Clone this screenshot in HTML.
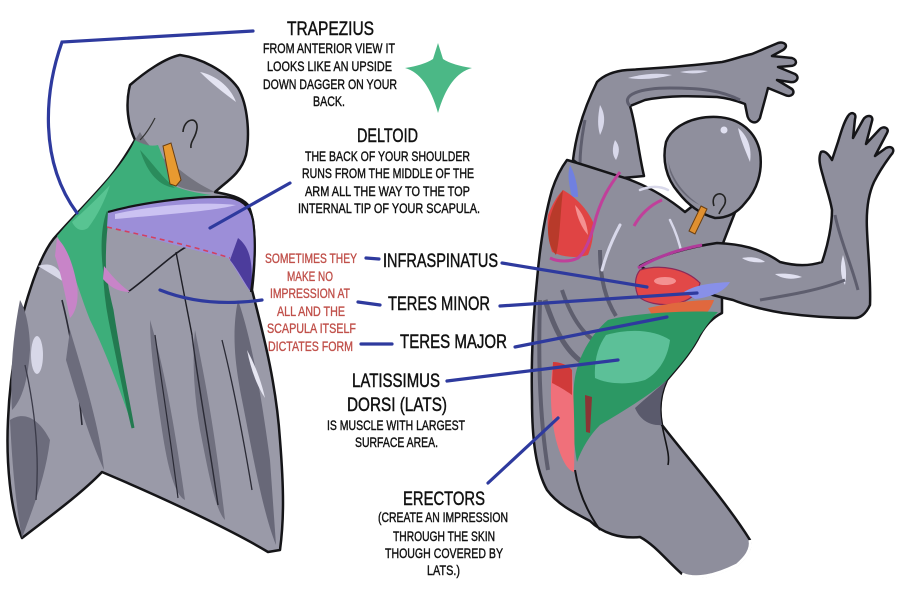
<!DOCTYPE html>
<html><head><meta charset="utf-8"><style>
html,body{margin:0;padding:0;background:#fff;}
svg{display:block;}
text{font-family:"Liberation Sans",sans-serif;}
</style></head><body>
<svg width="897" height="596" viewBox="0 0 897 596" xmlns="http://www.w3.org/2000/svg">
<rect width="897" height="596" fill="#fff"/>

<!-- ============ LEFT FIGURE ============ -->
<path d="M180,55 C200,58 225,70 238,88 C248,105 250,135 246,155 C242,170 232,178 222,186 L215,192 C225,194 240,196 248,205 C256,220 256,255 252,290 C262,330 276,380 280,440 C284,490 284,520 280,550 L268,552 C240,535 180,505 102,472 C80,495 45,520 22,538 C10,510 6,460 8,420 C10,370 20,320 30,290 C38,265 47,245 57,235 C75,215 95,195 110,177 C120,165 128,152 135,140 C128,125 125,105 130,85 C145,72 165,58 180,55 Z" fill="#9a9aa8" stroke="#151518" stroke-width="2.5" stroke-linejoin="round"/>
<!-- head shading -->
<path d="M135,140 C150,150 160,160 168,180 C180,190 200,193 215,192 C200,185 190,178 180,170 C165,160 150,150 140,132 Z" fill="#74747f"/>
<path d="M200,72 C215,75 230,86 236,102 C224,93 212,84 200,72 Z" fill="#e4e4f2"/>
<path d="M183,132 C184,118 198,116 197,128 C196,138 190,141 191,148" fill="none" stroke="#222" stroke-width="1.6"/>
<path d="M155,118 C150,128 145,135 140,140" fill="none" stroke="#333" stroke-width="1.2"/>
<!-- left arm shading -->
<path d="M10,420 C12,460 15,500 22,538 C32,510 45,480 50,440 C40,420 25,410 10,420 Z" fill="#6c6c7c"/>
<path d="M20,300 C12,340 10,380 12,410 C22,400 28,380 30,350 C30,330 26,310 20,300 Z" fill="#6c6c7c"/>
<ellipse cx="37" cy="355" rx="6" ry="19" fill="#d8d8e8"/>
<path d="M38,266 C50,262 60,266 64,282 C55,276 46,271 38,266 Z" fill="#d8d8e8"/>
<path d="M62,300 C72,340 78,380 82,425" fill="none" stroke="#2a2a35" stroke-width="1.6"/>
<path d="M25,365 C34,405 40,450 36,500" fill="none" stroke="#3a3a48" stroke-width="1.3"/>
<path d="M70,330 C85,380 100,430 104,470 C90,440 78,400 66,360 Z" fill="#6c6c7c"/>
<!-- torso lower shading -->
<path d="M150,320 C165,370 175,430 185,500 C175,495 168,470 162,430 C156,390 150,350 150,320 Z" fill="#70707f"/>
<path d="M195,330 C205,380 215,430 225,520 C215,510 208,470 200,430 C194,395 192,360 195,330 Z" fill="#70707f"/>
<path d="M238,300 C252,340 262,400 270,460 L276,545 C262,510 252,450 242,400 C234,360 232,330 238,300 Z" fill="#686878"/>
<path d="M247,350 C255,365 261,380 265,398 C257,386 251,370 247,350 Z" fill="#e6e6f2"/>
<path d="M128,292 C150,276 170,256 186,247" fill="none" stroke="#1e1e26" stroke-width="1.6"/>
<path d="M176,252 C181,278 186,305 192,335" fill="none" stroke="#1e1e26" stroke-width="1.4"/>
<path d="M192,335 C198,385 208,435 218,505" fill="none" stroke="#2a2a35" stroke-width="1.4"/>
<path d="M155,335 C162,385 170,435 178,498" fill="none" stroke="#2a2a35" stroke-width="1.2"/>
<path d="M222,340 C232,380 242,430 252,490" fill="none" stroke="#2a2a35" stroke-width="1.3"/>
<!-- trapezius green -->
<path d="M135,140 C142,144 150,147 158,145 L164,160 L170,184 C182,190 196,193 212,195 C180,198 140,203 108,212 C100,235 102,270 112,310 C118,350 126,390 133,428 C122,395 105,350 90,320 C80,295 72,265 62,245 L57,236 C75,215 95,195 110,177 C120,165 130,152 135,140 Z" fill="#3dae7a"/>
<path d="M72,222 C85,210 98,198 110,185 C105,200 98,215 88,228 C82,232 76,230 72,222 Z" fill="#58c492"/>
<path d="M108,212 C100,235 102,270 112,310 C118,350 126,390 133,428 C126,400 118,360 110,320 C104,290 102,250 108,212 Z" fill="#237a50" stroke="#237a50" stroke-width="3"/>
<path d="M140,150 C150,160 160,175 175,188 C160,186 148,175 140,150 Z" fill="#2a8c5c"/>
<!-- pink -->
<path d="M57,238 C66,246 73,263 77,285 C79,300 76,312 70,318 C66,300 62,276 55,256 Z" fill="#c884c8"/>
<path d="M104,266 C112,276 120,285 130,292 C118,292 110,287 103,279 Z" fill="#c884c8"/>
<!-- orange SCM -->
<path d="M163,146 L171,143 L181,180 L176,186 L170,184 Z" fill="#e89a30" stroke="#6a3e10" stroke-width="1"/>
<!-- deltoid purple -->
<path d="M108,212 C140,203 190,196 225,197 C240,198 250,205 253,220 C256,240 255,265 251,292 C244,285 238,272 228,258 C190,250 140,235 107,227 Z" fill="#9c8ed8"/>
<path d="M115,214 C150,206 200,201 236,205 C215,211 160,215 115,219 Z" fill="#cbc2f2"/>
<path d="M238,238 C248,246 254,258 251,292 C245,284 238,270 230,260 Z" fill="#4c3c9c"/>
<path d="M108,212 C140,203 190,196 225,197 C240,198 250,205 253,220 C256,240 255,265 251,292" fill="none" stroke="#151518" stroke-width="2.2"/>
<path d="M107,227 C150,237 190,245 230,258" fill="none" stroke="#d24060" stroke-width="1.6" stroke-dasharray="5,4"/>

<!-- ============ RIGHT FIGURE ============ -->
<!-- raised arm -->
<path d="M573,160 C576,135 584,108 597,82 C605,74 615,71 627,70 C660,68 690,66 722,62 C732,60 742,56 752,54 L778,43 C785,41 789,46 783,50 L772,56 L792,58 C798,60 797,66 790,66 L778,67 L795,74 C800,77 797,83 790,82 L777,80 L792,89 C796,93 791,98 785,95 L768,88 C765,100 762,110 760,118 C756,126 748,122 747,114 L745,104 C735,100 727,98 717,97 C695,96 670,95 645,100 L630,106 C636,125 638,150 644,176 L600,180 Z" fill="#8f8f9d" stroke="#151518" stroke-width="2.5" stroke-linejoin="round"/>
<path d="M628,78 C645,73 660,73 672,75 C656,79 642,80 628,78 Z" fill="#d8d8ea"/>
<path d="M680,72 C690,70 700,70 708,71 C698,74 690,74 680,72 Z" fill="#d8d8ea"/>
<path d="M600,105 C598,115 597,125 600,135 C605,125 606,115 600,105 Z" fill="#d8d8ea"/>
<path d="M615,140 C612,148 612,155 616,160 C620,152 620,146 615,140 Z" fill="#d8d8ea"/>
<path d="M630,106 C620,95 640,88 670,88 C700,88 720,90 740,100" fill="none" stroke="#5e5e6e" stroke-width="3"/>
<path d="M585,120 C582,135 580,150 580,165" fill="none" stroke="#5e5e6e" stroke-width="3"/>
<!-- torso -->
<path d="M567,160 C585,165 605,172 625,178 C648,186 668,198 685,212 L700,200 L738,205 C732,220 726,235 722,246 L722,313 C712,318 705,326 700,335 C690,355 675,370 667,380 C660,395 659,410 662,425 C685,455 725,500 750,540 C752,550 745,558 737,565 C715,576 695,580 682,574 C668,562 655,545 640,537 C620,539 602,533 590,521 C575,513 558,505 547,490 C536,470 532,440 532,400 C531,360 533,320 537,280 C540,245 545,215 552,190 C556,178 561,168 567,160 Z" fill="#8e8e9c" stroke="#151518" stroke-width="2.5" stroke-linejoin="round"/>
<path d="M750,540 C752,550 745,558 737,565 C715,576 695,580 682,574" fill="none" stroke="#fff" stroke-width="3"/>
<path d="M667,380 C660,395 659,410 662,425 C650,426 640,420 635,408 C646,398 656,390 667,380 Z" fill="#5a5a6c"/>
<path d="M545,300 C555,330 565,350 582,362" fill="none" stroke="#5e5e6e" stroke-width="5"/>
<path d="M562,290 C572,320 586,338 602,345" fill="none" stroke="#5e5e6e" stroke-width="4"/>
<path d="M600,250 C600,280 606,300 616,316" fill="none" stroke="#5e5e6e" stroke-width="4"/>
<path d="M540,300 C538,360 540,420 548,470" fill="none" stroke="#5e5e6e" stroke-width="4"/>
<path d="M620,225 C612,240 606,255 602,270" fill="none" stroke="#d8d8ea" stroke-width="3" stroke-linecap="round"/>
<path d="M670,220 C676,232 680,245 682,255" fill="none" stroke="#d8d8ea" stroke-width="2.5" stroke-linecap="round"/>
<path d="M640,190 C650,186 660,186 668,190" fill="none" stroke="#d8d8ea" stroke-width="2.5" stroke-linecap="round"/>
<path d="M575,470 C578,490 586,510 600,530" fill="none" stroke="#151518" stroke-width="2"/>
<path d="M662,425 C666,445 670,455 668,465" fill="none" stroke="#151518" stroke-width="1.6"/>
<!-- head -->
<path d="M717,117 C740,118 756,132 760,152 C763,172 757,190 745,203 C738,212 728,218 715,218 C700,214 688,205 678,192 C666,178 662,160 666,142 C672,126 693,116 717,117 Z" fill="#8f8f9d" stroke="#151518" stroke-width="2.5"/>
<path d="M738,128 C748,136 752,148 750,162 C745,150 740,138 738,128 Z" fill="#e0e0f0"/>
<circle cx="724" cy="130" r="3.5" fill="#e0e0f0"/>
<path d="M668,160 C672,180 685,195 700,205 C688,200 676,188 670,172 Z" fill="#6a6a78"/>
<path d="M714,206 C710,194 722,190 725,198 C727,205 721,208 719,214" fill="none" stroke="#222" stroke-width="1.6"/>
<path d="M701,206 L707,209 L695,234 L689,231 Z" fill="#e09030" stroke="#6a3e10" stroke-width="1"/>
<!-- lower arm -->
<path d="M640,266 C660,255 690,247 717,243 C740,244 760,248 780,262 C795,266 810,266 822,262 C828,245 832,225 832,210 C830,198 826,188 823,176 C820,166 818,158 821,152 C825,150 829,155 832,160 L838,142 C841,132 844,122 848,116 C851,111 857,113 855,119 L853,138 L863,120 C866,114 874,115 872,121 L866,144 L879,130 C883,125 890,128 887,133 L875,156 L886,148 C892,145 896,150 891,155 C885,163 879,172 874,182 C868,195 866,210 867,230 C868,255 871,280 870,305 C866,314 860,318 855,318 C830,318 805,316 783,313 C765,310 745,305 733,300 C715,296 700,292 690,285 C670,280 652,274 640,266 Z" fill="#8f8f9d" stroke="#151518" stroke-width="2.5" stroke-linejoin="round"/>
<path d="M843,255 C846,265 847,275 845,285 C840,276 840,265 843,255 Z" fill="#e0e0f0"/>
<path d="M775,274 C785,273 795,274 802,277 C792,280 782,279 775,274 Z" fill="#e0e0f0"/>
<path d="M742,258 C752,256 760,258 765,262 C756,263 748,262 742,258 Z" fill="#e0e0f0"/>
<path d="M760,300 C790,295 820,290 845,280" fill="none" stroke="#5e5e6e" stroke-width="3"/>
<path d="M835,215 C840,240 850,260 858,290" fill="none" stroke="#5e5e6e" stroke-width="3"/>
<!-- far shoulder muscles -->
<path d="M570,165 C574,172 578,185 578,197 L572,197 C569,185 567,175 570,165 Z" fill="#7080e0"/>
<path d="M563,190 C572,195 585,205 593,222 C594,235 592,245 588,255 C578,258 565,258 552,252 C548,240 547,225 548,215 C552,205 557,196 563,190 Z" fill="#e04444"/>
<path d="M563,190 C556,200 550,212 548,228 C548,240 550,248 556,255 C560,240 560,215 563,190 Z" fill="#b83a2a"/>
<path d="M575,205 C582,212 587,222 588,235 C582,228 577,218 575,205 Z" fill="#f49090"/>
<path d="M620,172 C610,185 600,200 594,225 C590,240 585,252 578,258 C570,262 558,262 550,258" fill="none" stroke="#c0409a" stroke-width="3"/>
<path d="M634,226 C640,215 650,205 662,200" fill="none" stroke="#c0409a" stroke-width="3"/>
<!-- near scapula muscles -->
<path d="M638,268 C655,258 675,250 702,245" fill="none" stroke="#b03a9a" stroke-width="3"/>
<path d="M640,270 C660,264 685,268 700,283 C698,294 690,301 675,304 C660,306 645,303 638,296 C634,286 635,276 640,270 Z" fill="#e24848" stroke="#8a2a5a" stroke-width="1.2"/>
<ellipse cx="665" cy="281" rx="11" ry="4" fill="#f49090"/>
<path d="M684,292 C695,285 710,283 730,282 C725,291 712,297 695,299 Z" fill="#8890e8"/>
<path d="M648,308 C670,303 692,300 714,300 C710,312 700,322 685,327 C670,330 658,327 648,308 Z" fill="#e0683e"/>
<!-- lat green -->
<path d="M608,320 C630,314 680,310 718,312 C710,320 705,328 700,335 C690,355 675,370 667,380 C650,395 625,410 600,425 C590,435 582,448 577,462 C573,440 572,410 574,385 C576,360 590,335 608,320 Z" fill="#2c9864"/>
<path d="M606,335 C630,328 655,330 670,340 C668,356 660,372 645,380 C625,386 605,383 595,378 C594,360 598,346 606,335 Z" fill="#5cc098"/>
<!-- erector -->
<path d="M553,362 C560,362 568,365 572,370 C574,400 575,440 574,472 C566,470 560,455 556,440 C551,420 549,390 553,362 Z" fill="#f0707a"/>
<path d="M553,362 C560,362 568,365 572,370 L572,395 C565,390 558,386 552,383 Z" fill="#d03a3a"/>
<path d="M585,395 L592,397 L590,433 L586,432 Z" fill="#8a3535"/>

<!-- ============ DAGGER ICON ============ -->
<path d="M438,43 L443,59 Q452,65 472,68 Q449,74 438,113 Q427,74 405,68 Q424,65 433,59 Z" fill="#4bb886"/>

<!-- ============ BLUE LINES ============ -->
<g fill="none" stroke="#2e3a9e" stroke-width="3.2" stroke-linecap="round">
<path d="M253,31 L62,42 C45,90 38,160 77,213"/>
<path d="M290,183 L210,228"/>
<path d="M160,290 Q205,308 262,300"/>
<path d="M366,258 L379,259"/>
<path d="M358,302 L380,305"/>
<path d="M361,344 L392,344"/>
<path d="M502,263 L647,287"/>
<path d="M500,306 L697,293"/>
<path d="M515,347 L667,317"/>
<path d="M447,381 L618,360"/>
<path d="M488,483 L558,418"/>
</g>

<!-- ============ TEXT ============ -->
<g fill="#111" stroke="#111" stroke-width="0.45" font-size="19">
<text x="287" y="35" textLength="87" lengthAdjust="spacingAndGlyphs">TRAPEZIUS</text>
<text x="357" y="142" textLength="61" lengthAdjust="spacingAndGlyphs">DELTOID</text>
<text x="383" y="267" textLength="115" lengthAdjust="spacingAndGlyphs">INFRASPINATUS</text>
<text x="388" y="310" textLength="102" lengthAdjust="spacingAndGlyphs">TERES MINOR</text>
<text x="400" y="348" textLength="107" lengthAdjust="spacingAndGlyphs">TERES MAJOR</text>
<text x="352" y="387" textLength="88" lengthAdjust="spacingAndGlyphs">LATISSIMUS</text>
<text x="347" y="411" textLength="100" lengthAdjust="spacingAndGlyphs">DORSI (LATS)</text>
<text x="403" y="505" textLength="82" lengthAdjust="spacingAndGlyphs">ERECTORS</text>
</g>
<g fill="#111" stroke="#111" stroke-width="0.4" font-size="13.5">
<text x="263" y="53" textLength="132" lengthAdjust="spacingAndGlyphs">FROM ANTERIOR VIEW IT</text>
<text x="267" y="71" textLength="125" lengthAdjust="spacingAndGlyphs">LOOKS LIKE AN UPSIDE</text>
<text x="263" y="89" textLength="134" lengthAdjust="spacingAndGlyphs">DOWN DAGGER ON YOUR</text>
<text x="313" y="106" textLength="32" lengthAdjust="spacingAndGlyphs">BACK.</text>
<text x="305" y="161" textLength="165" lengthAdjust="spacingAndGlyphs">THE BACK OF YOUR SHOULDER</text>
<text x="302" y="178" textLength="172" lengthAdjust="spacingAndGlyphs">RUNS FROM THE MIDDLE OF THE</text>
<text x="305" y="196" textLength="165" lengthAdjust="spacingAndGlyphs">ARM ALL THE WAY TO THE TOP</text>
<text x="298" y="213" textLength="182" lengthAdjust="spacingAndGlyphs">INTERNAL TIP OF YOUR SCAPULA.</text>
<text x="327" y="430" textLength="138" lengthAdjust="spacingAndGlyphs">IS MUSCLE WITH LARGEST</text>
<text x="355" y="447" textLength="83" lengthAdjust="spacingAndGlyphs">SURFACE AREA.</text>
<text x="378" y="522" textLength="130" lengthAdjust="spacingAndGlyphs">(CREATE AN IMPRESSION</text>
<text x="393" y="541" textLength="102" lengthAdjust="spacingAndGlyphs">THROUGH THE SKIN</text>
<text x="385" y="558" textLength="118" lengthAdjust="spacingAndGlyphs">THOUGH COVERED BY</text>
<text x="427" y="575" textLength="33" lengthAdjust="spacingAndGlyphs">LATS.)</text>
</g>
<g fill="#c0504a" stroke="#c0504a" stroke-width="0.35" font-size="13.5">
<text x="265" y="263" textLength="92" lengthAdjust="spacingAndGlyphs">SOMETIMES THEY</text>
<text x="287" y="281" textLength="46" lengthAdjust="spacingAndGlyphs">MAKE NO</text>
<text x="270" y="298" textLength="80" lengthAdjust="spacingAndGlyphs">IMPRESSION AT</text>
<text x="277" y="316" textLength="68" lengthAdjust="spacingAndGlyphs">ALL AND THE</text>
<text x="267" y="333" textLength="89" lengthAdjust="spacingAndGlyphs">SCAPULA ITSELF</text>
<text x="268" y="351" textLength="85" lengthAdjust="spacingAndGlyphs">DICTATES FORM</text>
</g>
</svg>
</body></html>
